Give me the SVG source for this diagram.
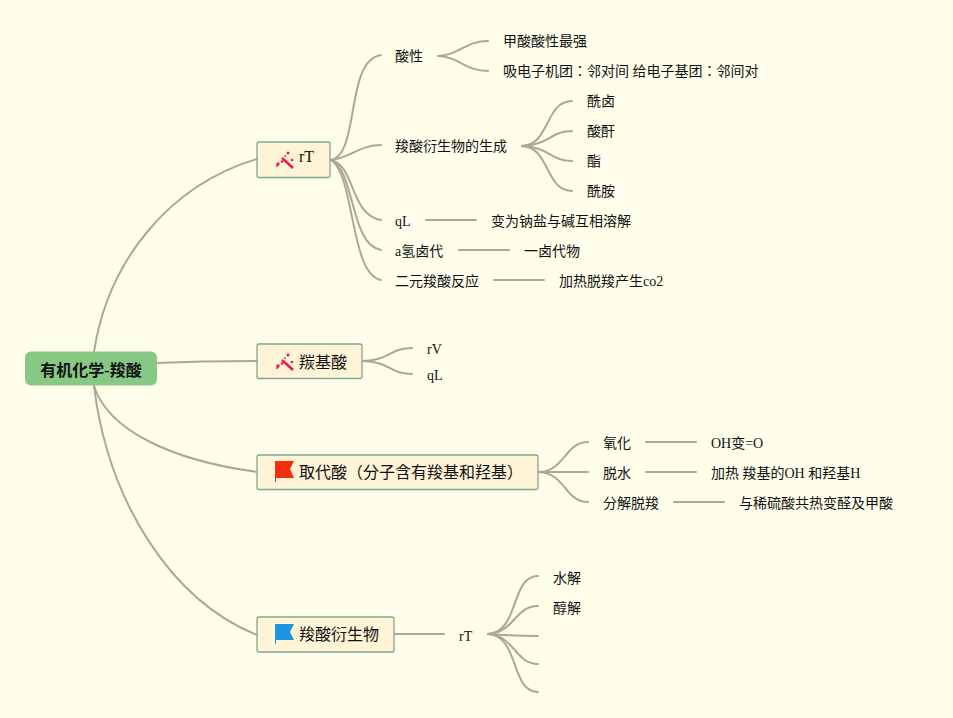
<svg xmlns="http://www.w3.org/2000/svg" width="953" height="718" viewBox="0 0 953 718">
<style>
text{font-family:"Liberation Serif","Noto Sans CJK JP",serif;font-size:14px;fill:#111}
.m{font-size:16px}
.b{fill:#fff4d6;stroke:#7fa893;stroke-width:1.3}
.c path{fill:none;stroke:#a9a994;stroke-width:2;stroke-linecap:round}
.s{fill:#e8184f}
</style>
<defs>
<g id="wand"><path d="M-3 2L8 12" stroke="#e8184f" stroke-width="2.400" fill="none"/><circle class="s" cx="-7" cy="8" r="1.700"/><circle class="s" cx="-3" cy="5.500" r="1.300"/><circle class="s" cx="-8" cy="10" r="1"/><circle class="s" cx="3" cy="-3" r="1.500"/><circle class="s" cx="0" cy="0" r="0.900"/><circle class="s" cx="7" cy="4" r="1.300"/></g>
</defs>
<rect width="953" height="718" fill="#fefeeb"/>
<g class="c" id="connectors">
<path d="M94 352C108 260 170 185 257 159"/>
<path d="M157 363Q200 361 257 361"/>
<path d="M94 386C108 430 170 460 257 472"/>
<path d="M94 386C108 500 170 600 257 635"/>
<path d="M331 160C360 155 345 60 381 55"/>
<path d="M331 160C350 158 360 145 381 145"/>
<path d="M331 160C355 165 350 215 381 220"/>
<path d="M331 160C355 170 350 245 381 250"/>
<path d="M331 160C355 175 350 275 381 280"/>
<path d="M438 56C460 55 465 41 488 41"/>
<path d="M438 56C460 57 465 71 488 71"/>
<path d="M522 146C550 145 545 101 572 101"/>
<path d="M522 146C550 145 550 131 572 131"/>
<path d="M522 146C550 147 550 161 572 161"/>
<path d="M522 146C550 147 545 191 572 191"/>
<path d="M426 220H476"/>
<path d="M459 250H509"/>
<path d="M494 280H544"/>
<path d="M363 361C390 360 390 348 412 348"/>
<path d="M363 361C390 362 390 374 412 374"/>
<path d="M539 472C565 471 565 442 588 442"/>
<path d="M539 472H588"/>
<path d="M539 472C565 473 565 502 588 502"/>
<path d="M646 442H696"/>
<path d="M646 472H696"/>
<path d="M674 502H724"/>
<path d="M395 634H444"/>
<path d="M488 634C520 632 510 576 538 576"/>
<path d="M488 634C515 632 515 606 538 606"/>
<path d="M488 634Q515 636 538 636"/>
<path d="M488 634C515 636 515 664 538 664"/>
<path d="M488 634C520 636 510 692 538 692"/>
</g>
<g id="root"><rect x="25" y="351.500" width="132" height="34" rx="6" fill="#86c884"/><text x="91" y="376" text-anchor="middle" style="font-size:16px;font-weight:bold">有机化学-羧酸</text></g>
<g id="n1"><rect class="b" x="257" y="142" width="73" height="35.500" rx="2"/><use href="#wand" x="285" y="156"/><text class="m" x="299" y="162">rT</text></g>
<g id="n2"><rect class="b" x="257" y="344" width="105" height="34.500" rx="2"/><use href="#wand" x="285" y="358"/><text class="m" x="299" y="368">羰基酸</text></g>
<g id="n3"><rect class="b" x="257" y="455" width="281" height="34.500" rx="2"/><path d="M275 461h19l-4 8 4 9h-18v4h-1z" fill="#f2300f"/><text class="m" x="299" y="478">取代酸（分子含有羧基和羟基）</text></g>
<g id="n4"><rect class="b" x="257" y="617" width="137" height="35" rx="2"/><path d="M275 624h19l-4 8 4 8h-18v4h-1z" fill="#1b95e0"/><text class="m" x="299" y="640">羧酸衍生物</text></g>
<g id="t1"><text x="395" y="61">酸性</text></g>
<g id="t2"><text x="503" y="46">甲酸酸性最强</text></g>
<g id="t3"><text x="503" y="76">吸电子机团：邻对间 给电子基团：邻间对</text></g>
<g id="t4"><text x="395" y="151">羧酸衍生物的生成</text></g>
<g id="t5"><text x="587" y="106">酰卤</text></g>
<g id="t6"><text x="587" y="136">酸酐</text></g>
<g id="t7"><text x="587" y="166">酯</text></g>
<g id="t8"><text x="587" y="196">酰胺</text></g>
<g id="t9"><text x="395" y="226">qL</text></g>
<g id="t10"><text x="491" y="226">变为钠盐与碱互相溶解</text></g>
<g id="t11"><text x="395" y="256">a氢卤代</text></g>
<g id="t12"><text x="524" y="256">一卤代物</text></g>
<g id="t13"><text x="395" y="286">二元羧酸反应</text></g>
<g id="t14"><text x="559" y="286">加热脱羧产生co2</text></g>
<g id="t15"><text x="427" y="354">rV</text></g>
<g id="t16"><text x="427" y="380">qL</text></g>
<g id="t17"><text x="603" y="448">氧化</text></g>
<g id="t18"><text x="711" y="448">OH变=O</text></g>
<g id="t19"><text x="603" y="478">脱水</text></g>
<g id="t20"><text x="711" y="478">加热 羧基的OH 和羟基H</text></g>
<g id="t21"><text x="603" y="508">分解脱羧</text></g>
<g id="t22"><text x="739" y="508">与稀硫酸共热变醛及甲酸</text></g>
<g id="t23"><text x="459" y="641">rT</text></g>
<g id="t24"><text x="553" y="583">水解</text></g>
<g id="t25"><text x="553" y="613">醇解</text></g>
</svg>
